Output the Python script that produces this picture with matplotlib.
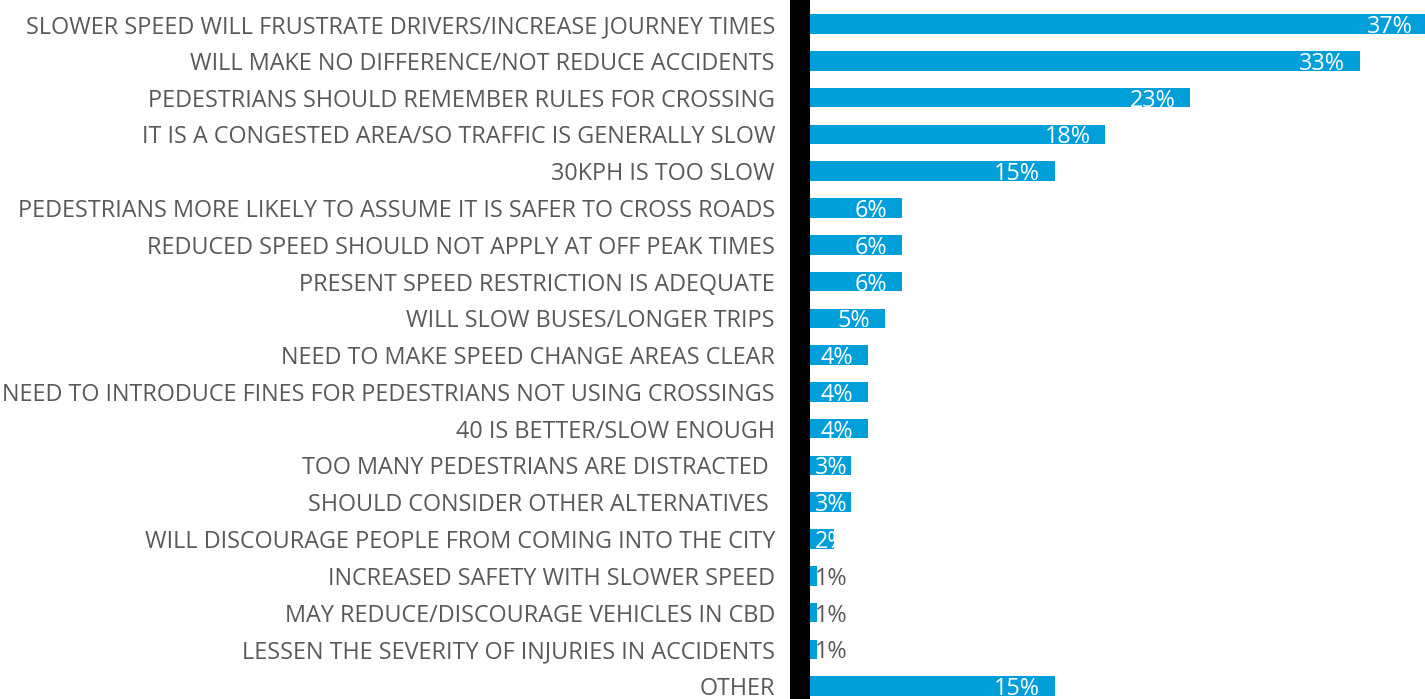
import matplotlib.pyplot as plt
from matplotlib.transforms import offset_copy

plt.rcParams['font.family'] = ['Open Sans', 'DejaVu Sans']

# reasons, top to bottom
reasons = [
    'SLOWER SPEED WILL FRUSTRATE DRIVERS/INCREASE JOURNEY TIMES',
    'WILL MAKE NO DIFFERENCE/NOT REDUCE ACCIDENTS',
    'PEDESTRIANS SHOULD REMEMBER RULES FOR CROSSING',
    'IT IS A CONGESTED AREA/SO TRAFFIC IS GENERALLY SLOW',
    '30KPH IS TOO SLOW',
    'PEDESTRIANS MORE LIKELY TO ASSUME IT IS SAFER TO CROSS ROADS',
    'REDUCED SPEED SHOULD NOT APPLY AT OFF PEAK TIMES',
    'PRESENT SPEED RESTRICTION IS ADEQUATE',
    'WILL SLOW BUSES/LONGER TRIPS',
    'NEED TO MAKE SPEED CHANGE AREAS CLEAR',
    'NEED TO INTRODUCE FINES FOR PEDESTRIANS NOT USING CROSSINGS',
    '40 IS BETTER/SLOW ENOUGH',
    'TOO MANY PEDESTRIANS ARE DISTRACTED ',
    'SHOULD CONSIDER OTHER ALTERNATIVES ',
    'WILL DISCOURAGE PEOPLE FROM COMING INTO THE CITY',
    'INCREASED SAFETY WITH SLOWER SPEED',
    'MAY REDUCE/DISCOURAGE VEHICLES IN CBD',
    'LESSEN THE SEVERITY OF INJURIES IN ACCIDENTS',
    'OTHER',
]
pct = [37, 33, 23, 18, 15, 6, 6, 6, 5, 4, 4, 4, 3, 3, 2, 1, 1, 1, 15]

blue = '#009fda'
grey = '#595959'
fs = 16.8

fig = plt.figure(figsize=(14.25, 6.99), dpi=100)
ax = fig.add_axes([800 / 1425, 0, 1 - 800 / 1425, 1 - 5 / 699])

ypos = list(range(len(pct)))
bars = ax.barh(ypos, pct, height=0.53, color=blue)

ax.set_xlim(0, 36.83)
ax.set_ylim(18.35, -0.52)

for s in ['top', 'right', 'bottom']:
    ax.spines[s].set_visible(False)
ax.spines['left'].set_linewidth(14.4)
ax.spines['left'].set_color('black')
ax.set_xticks([])
ax.set_yticks(ypos)
ax.set_yticklabels(reasons, fontsize=fs, color=grey)
ax.tick_params(axis='y', length=0, pad=18)

fig.canvas.draw()
r = fig.canvas.get_renderer()
x0 = ax.transData.transform((0, 0))[0]
for b, v, y in zip(bars, pct, ypos):
    col = 'white' if v > 1 else grey
    t = ax.text(v, y + 0.245, f'{v}%', ha='right', va='baseline',
                fontsize=fs, color=col,
                transform=offset_copy(ax.transData, fig=fig, x=-15, y=0, units='dots'))
    w = t.get_window_extent(r).width
    end = ax.transData.transform((v, 0))[0] - 15
    if end - w < x0 + 15:
        t.set_ha('left')
        t.set_x(0)
        t.set_transform(offset_copy(ax.transData, fig=fig, x=15, y=0, units='dots'))
    if v == 2:
        t.set_clip_path(b)

fig.savefig('out.png', dpi=100)
